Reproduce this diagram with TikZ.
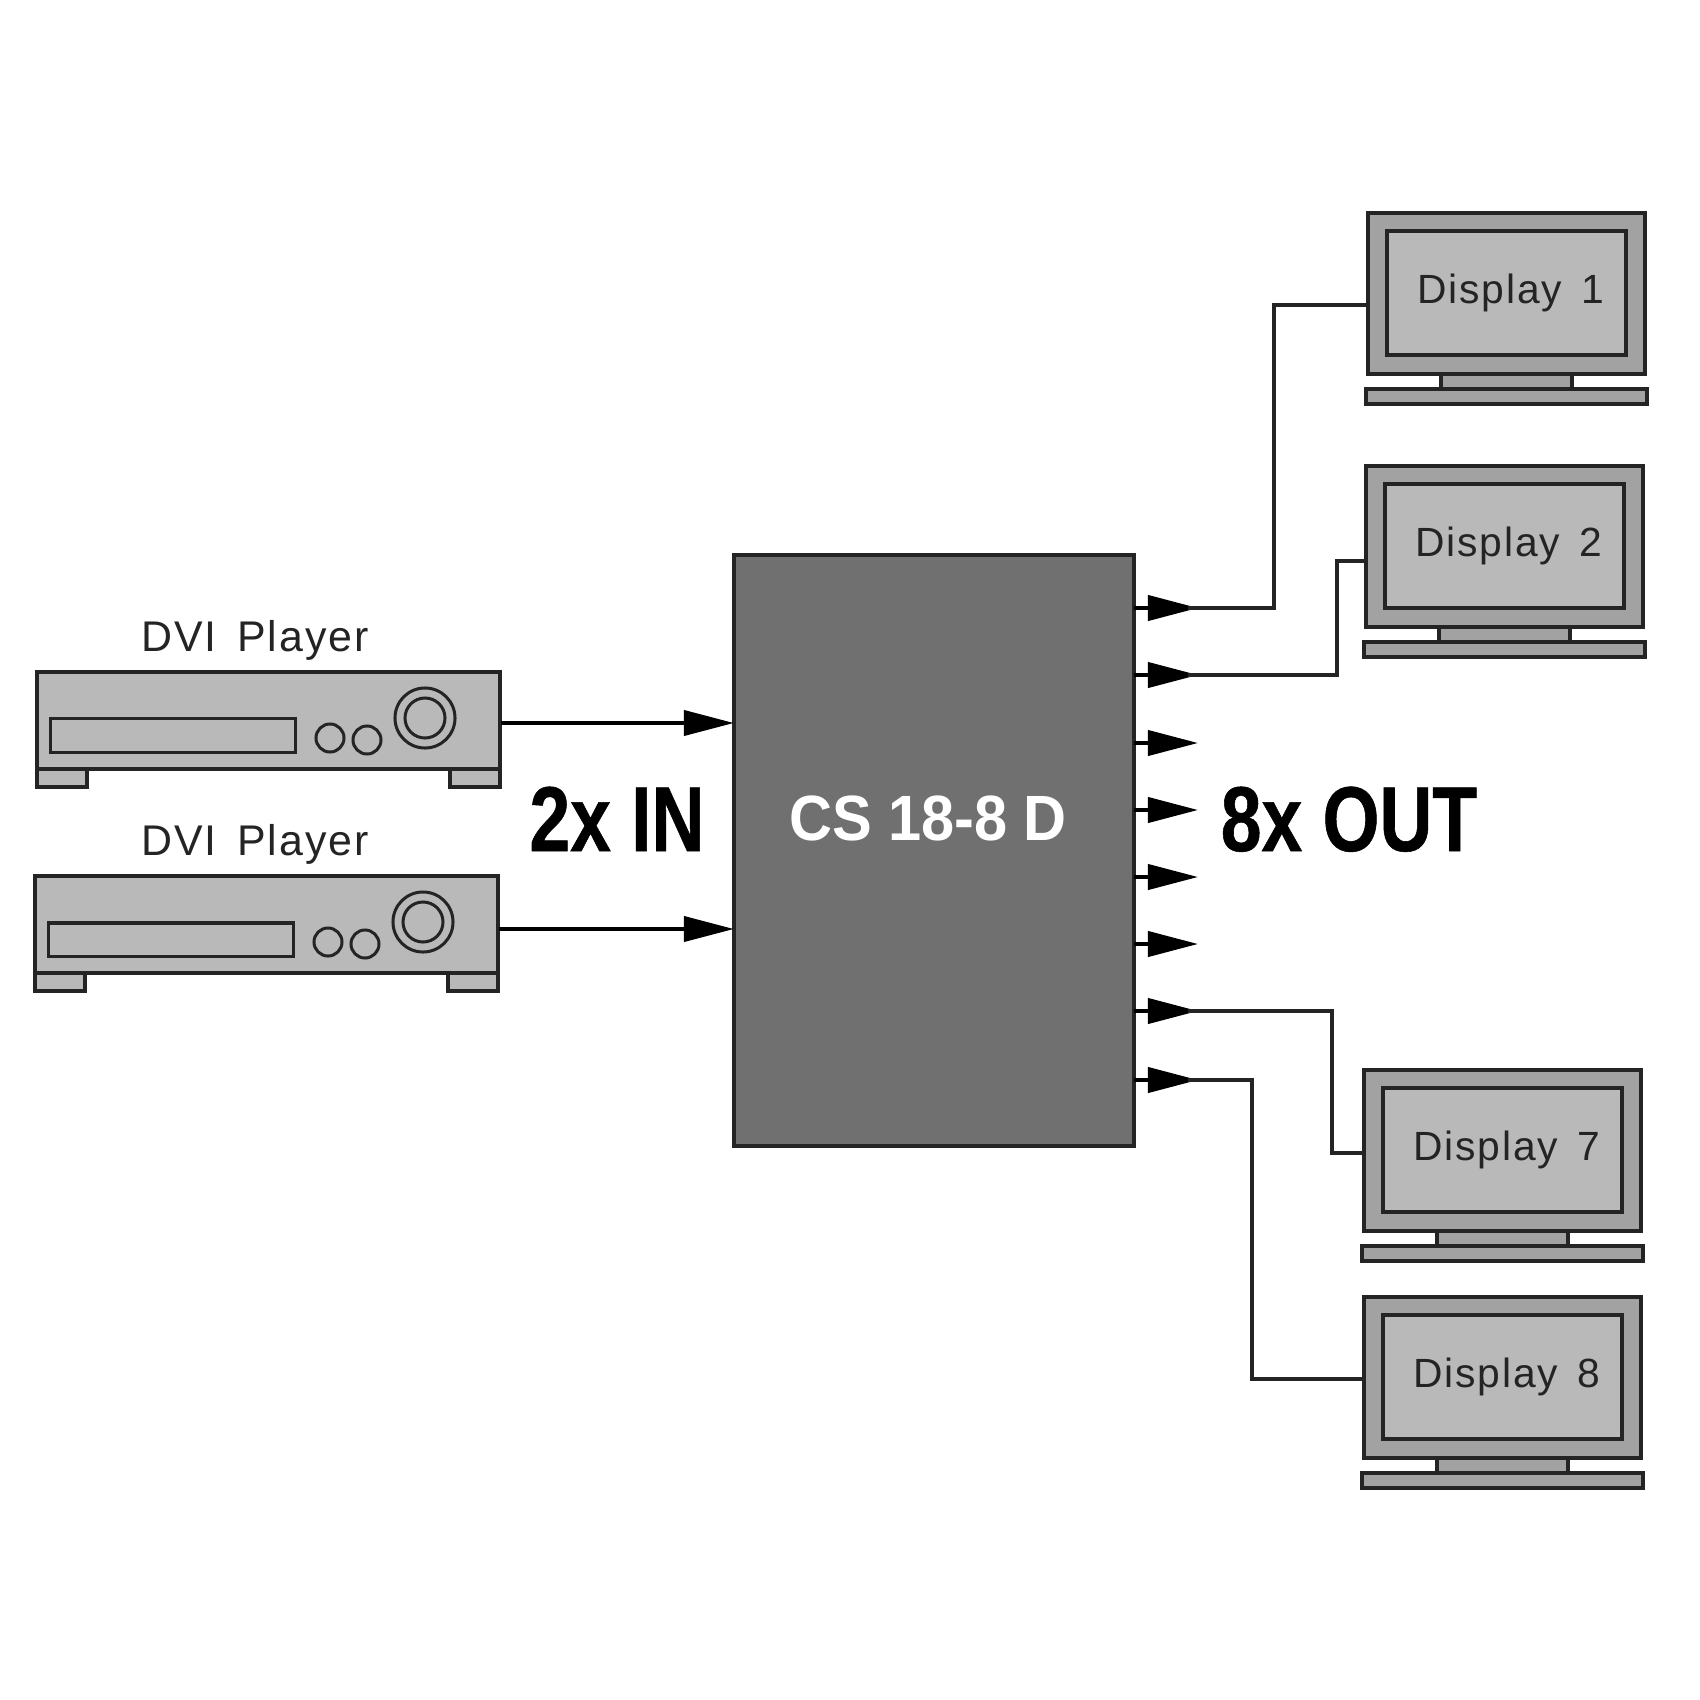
\documentclass[tikz,border=0pt]{standalone}
\usepackage{fontspec}
\setmainfont{Liberation Sans}
\newfontfamily\thinfont[LetterSpace=4.5,WordSpace=1.5]{Liberation Sans}
\newfontfamily\headfont[FakeStretch=0.795,BoldFeatures={FakeBold=0.6}]{Liberation Sans}
\newfontfamily\chipfont[FakeStretch=0.93]{Liberation Sans}
\definecolor{chipgray}{HTML}{707070}
\definecolor{framegray}{HTML}{A2A2A2}
\definecolor{panelgray}{HTML}{B9B9B9}
\definecolor{edgegray}{HTML}{242424}
\usetikzlibrary{arrows.meta, positioning}

\begin{document}
\begin{tikzpicture}[
    x=0.01cm, y=-0.01cm,
    part/.style={rectangle, draw=edgegray, line width=0.04cm, inner sep=0pt, outer sep=0pt},
    chip/.style={part, fill=chipgray, minimum width=4.0cm, minimum height=5.9cm},
    player/.style={part, fill=panelgray, minimum width=4.63cm, minimum height=0.97cm},
    foot/.style={part, fill=panelgray, minimum width=0.5cm, minimum height=0.18cm},
    slot/.style={part, fill=panelgray, line width=0.03cm, minimum width=2.44cm, minimum height=0.33cm},
    knob/.style={part, circle, fill=panelgray, line width=0.03cm},
    frame/.style={part, fill=framegray, minimum width=2.76cm, minimum height=1.61cm},
    screen/.style={part, fill=panelgray, minimum width=2.38cm, minimum height=1.23cm},
    neck/.style={part, fill=framegray, minimum width=1.3cm, minimum height=0.15cm},
    stand/.style={part, fill=framegray, minimum width=2.81cm, minimum height=0.15cm},
    thintext/.style={anchor=base, inner sep=0pt, text=edgegray, font=\thinfont\fontsize{11.6}{13}\selectfont},
    nametext/.style={thintext, font=\thinfont\fontsize{12.2}{14}\selectfont},
    chiptext/.style={anchor=base, inner sep=0pt, text=white, font=\chipfont\fontsize{18.2}{20}\selectfont\bfseries},
    headtext/.style={anchor=base, inner sep=0pt, font=\headfont\fontsize{26.2}{28}\selectfont\bfseries},
    inarrow/.style={-{Triangle[length=0.5cm, width=0.25cm]}, line width=0.04cm, black},
    outarrow/.style={-{Triangle[length=0.5cm, width=0.25cm]}, line width=0.04cm, black},
    wire/.style={line width=0.035cm, edgegray}
]
\useasboundingbox (0,0) rectangle (1700,1700);

% Switch
\node[chip] (cs) at (934,850.5) {};
\node[chiptext] (cstext) at (928,840) {CS 18-8 D};

% Players
\foreach \i/\dx/\dy in {1/0/0, 2/-2/204} {
\begin{scope}[shift={(\dx,\dy)}]
\node[foot, anchor=north west] (footl\i) at (37,769) {};
\node[foot, anchor=north east] (footr\i) at (500,769) {};
\node[player] (player\i) at (268.5,720.5) {};
\node[slot] (slot\i) at (173,735.5) {};
\node[knob, minimum size=0.28cm] (btna\i) at (330,738) {};
\node[knob, minimum size=0.28cm] (btnb\i) at (367,740) {};
\node[knob, minimum size=0.6cm] (dial\i) at (425,718) {};
\node[knob, minimum size=0.4cm] (dialin\i) at (425,718) {};
\end{scope}
}
\node[nametext] (name1) at (255,651) {DVI Player};
\node[nametext] (name2) at (255,855) {DVI Player};

% Inputs
\coordinate (in1) at (501,723);
\coordinate (in2) at (499,929);
\draw[inarrow] (in1) -- (cs.west |- in1);
\draw[inarrow] (in2) -- (cs.west |- in2);

% Displays
\foreach \i/\dx/\dy in {1/0/0, 2/-2/253, 7/-4/857, 8/-4/1084} {
\begin{scope}[shift={(\dx,\dy)}]
\node[frame] (frame\i) at (1506.5,293.5) {};
\node[screen] (screen\i) at (1506.5,293) {};
\node[neck, below=0cm of frame\i] (neck\i) {};
\node[stand, below=0cm of neck\i] (stand\i) {};
\node[thintext] (label\i) at (1511,303) {Display \i};
\end{scope}
}

% Outputs
\foreach \i/\y in {1/608, 2/675, 3/743, 4/810, 5/877, 6/944, 7/1011, 8/1080} {
\coordinate (tip\i) at (1198,\y);
\draw[outarrow] (cs.east |- tip\i) -- (tip\i);
}

% Wires to displays
\coordinate (port1) at (1369,305);
\coordinate (port2) at (1367,561);
\coordinate (port7) at (1365,1153);
\coordinate (port8) at (1365,1379);
\draw[wire] ([xshift=-0.1cm]tip1) -- ++(86,0) |- (port1);
\draw[wire] ([xshift=-0.1cm]tip2) -- ++(149,0) |- (port2);
\draw[wire] ([xshift=-0.1cm]tip7) -- ++(144,0) |- (port7);
\draw[wire] ([xshift=-0.1cm]tip8) -- ++(64,0) |- (port8);

% Big labels
\node[headtext] (intext) at (617,851) {2x IN};
\node[headtext] (outtext) at (1349,851) {8x OUT};

\end{tikzpicture}
\end{document}
